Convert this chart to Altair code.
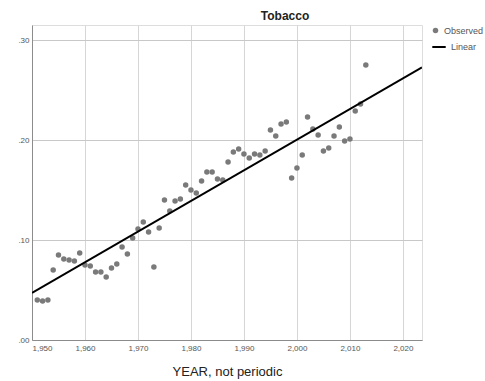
import altair as alt
import pandas as pd

years = list(range(1951, 2014))
values = [.040, .039, .040, .070, .085, .081, .080, .079, .087, .075,
          .074, .068, .068, .063, .072, .076, .093, .086, .102, .111,
          .118, .108, .073, .112, .140, .129, .139, .141, .155, .150,
          .147, .159, .168, .168, .161, .160, .178, .188, .191, .186,
          .182, .186, .185, .189, .210, .204, .216, .218, .162, .172,
          .185, .223, .211, .205, .189, .192, .204, .213, .199, .201,
          .229, .236, .275]
x_ticks = [1950, 1960, 1970, 1980, 1990, 2000, 2010, 2020]
y_ticks = [0.0, 0.1, 0.2, 0.3]

df = pd.DataFrame({"year": years, "value": values, "s": "Observed"})

lab_font = "Liberation Sans"

xscale = alt.Scale(domain=[1950, 2023.6], nice=False, zero=False)
yscale = alt.Scale(domain=[0, 0.315], nice=False)

xaxis = alt.Axis(values=x_ticks, format=",d", title="YEAR, not periodic",
                 titleFont="Liberation Sans", titleFontSize=13, titleFontWeight="normal",
                 titleColor="#222222", titlePadding=13,
                 labelFont=lab_font, labelFontSize=8, labelColor="#555555",
                 ticks=False, labelPadding=4, grid=True, gridColor="#d6d6d6",
                 domainColor="#8c8c8c", labelOverlap=False)
yaxis = alt.Axis(values=y_ticks, labelExpr="replace(format(datum.value, '.2f'), '0.', '.')",
                 title=None, labelFont=lab_font, labelFontSize=8, labelColor="#555555",
                 ticks=False, labelPadding=3, grid=True, gridColor="#c8c8c8",
                 domainColor="#8c8c8c")

base = alt.Chart(df)

points = base.mark_circle(size=30, opacity=1).encode(
    x=alt.X("year:Q", scale=xscale, axis=xaxis),
    y=alt.Y("value:Q", scale=yscale, axis=yaxis),
    color=alt.Color("s:N", scale=alt.Scale(domain=["Observed"], range=["#7a7a7a"]),
                    legend=alt.Legend(title=None, orient="none", legendX=399, legendY=1,
                                      symbolType="circle", symbolSize=30,
                                      labelFont=lab_font, labelFontSize=9,
                                      labelColor="#555555", padding=0)),
)

line = base.transform_regression("year", "value", extent=[1950, 2023.6]).transform_calculate(
    s="'Linear'"
).mark_line(color="black", strokeWidth=2, clip=True).encode(
    x=alt.X("year:Q", scale=xscale),
    y=alt.Y("value:Q", scale=yscale),
    color=alt.Color("s:N", scale=alt.Scale(domain=["Linear"], range=["#000000"]),
                    legend=alt.Legend(title=None, orient="none", legendX=399, legendY=14,
                                      symbolType="stroke", symbolSize=180,
                                      symbolStrokeWidth=2,
                                      labelFont=lab_font, labelFontSize=9,
                                      labelColor="#555555", padding=0)),
)

chart = alt.layer(points, line).resolve_scale(color="independent").properties(
    width=390, height=315,
    title=alt.TitleParams("Tobacco", fontSize=12, fontWeight="bold", font="Liberation Sans",
                          color="#222222", dx=58, offset=2),
    autosize=alt.AutoSizeParams(type="none"),
    padding={"left": 32, "top": 25, "right": 63, "bottom": 41},
).configure_view(stroke=None).configure(background="white")

chart.save("out.html", embed_options={"renderer": "svg", "actions": False})
